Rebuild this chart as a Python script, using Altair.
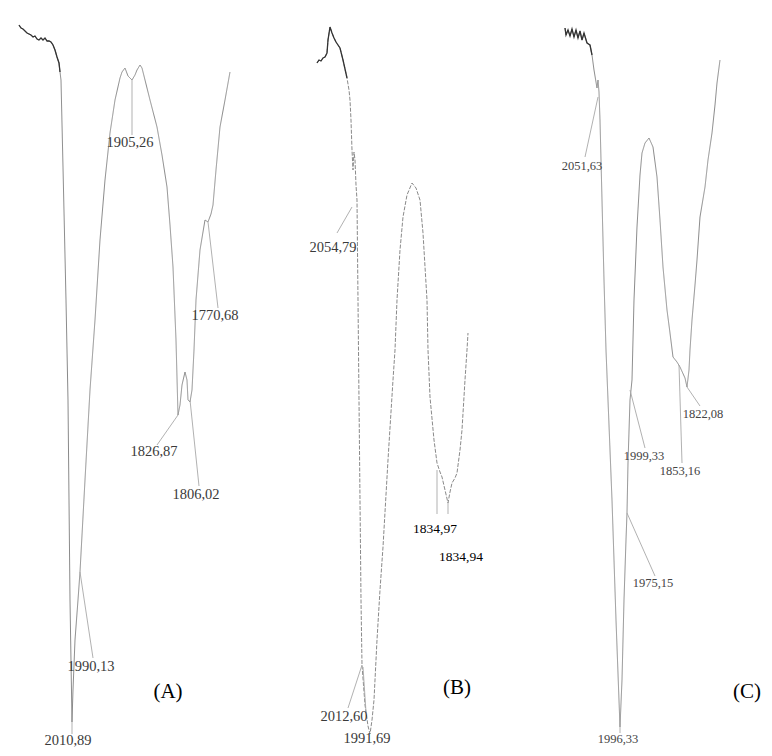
import altair as alt
import pandas as pd

# ---- traced spectra (picture coordinates: x right, y down) ----
A_x = [19, 21, 23, 25, 27, 29, 31, 33, 35, 37, 39, 41, 43, 45, 47, 49, 51, 53, 55, 57, 59, 60, 61,
       63, 66, 68, 69, 70, 72, 73, 75, 78, 80, 85, 90, 95, 100, 105, 110, 115, 120, 122, 125, 128,
       132, 135, 137, 140, 142, 145, 150, 157, 162, 167, 170, 173, 176, 178, 180, 182, 185, 187,
       188, 190, 192, 194, 196, 200, 203, 205, 208, 211, 213, 216, 220, 225, 230]
A_y = [25, 28, 29, 31, 33, 34, 35, 37, 36, 39, 40, 38, 40, 38, 41, 41, 42, 45, 50, 57, 63, 72, 80,
       167, 300, 400, 500, 600, 722, 690, 640, 600, 572, 480, 390, 320, 240, 180, 133, 100, 78, 72,
       68, 76, 80, 75, 70, 65, 68, 80, 100, 127, 155, 187, 225, 267, 340, 415, 405, 385, 372, 380,
       400, 402, 390, 350, 300, 250, 232, 220, 222, 214, 205, 170, 127, 100, 72]

B_x = [317, 319, 321, 323, 325, 327, 328, 330, 332, 334, 336, 338, 340, 343, 347, 349, 350, 351,
       352, 353, 354, 355, 356, 357, 358, 359, 360, 361, 362, 365, 368, 370, 372, 374, 377, 380,
       383, 388, 393, 395, 397, 400, 403, 407, 412, 416, 420, 423, 427, 428, 430, 434, 437, 440,
       442, 445, 448, 450, 452, 455, 457, 460, 462, 465, 467, 468]
B_y = [63, 60, 61, 58, 57, 53, 40, 27, 33, 38, 42, 45, 48, 60, 78, 90, 100, 120, 150, 170, 152,
       160, 185, 200, 300, 400, 500, 600, 665, 705, 726, 734, 720, 700, 640, 590, 547, 460, 380,
       350, 300, 250, 217, 195, 183, 188, 200, 233, 300, 350, 397, 440, 463, 472, 477, 490, 503,
       492, 483, 478, 473, 450, 430, 380, 350, 333]

C_x = [565, 566, 568, 570, 572, 574, 576, 578, 580, 582, 584, 587, 590, 592, 594, 596, 597, 598,
       599, 600, 602, 604, 606, 608, 612, 616, 620, 622, 624, 626, 627, 628, 630, 632, 634, 637,
       640, 642, 645, 649, 653, 657, 660, 663, 667, 670, 673, 677, 680, 685, 687, 689, 690, 692,
       695, 697, 700, 702, 705, 708, 712, 715, 717, 720]
C_y = [28, 35, 30, 36, 29, 37, 30, 38, 31, 40, 33, 43, 45, 55, 70, 82, 88, 80, 92, 120, 200, 280,
       350, 400, 500, 620, 727, 680, 600, 540, 513, 463, 400, 380, 300, 227, 175, 153, 143, 138,
       147, 177, 220, 267, 310, 333, 357, 362, 367, 378, 387, 370, 350, 320, 285, 260, 217, 205,
       187, 160, 133, 105, 83, 60]

# number of leading points drawn darker (noisy top part of each trace)
dark_upto = {"A": 21, "B": 14, "C": 13}

# ---- peak labels ----
label_text = ["1905,26", "1770,68", "1826,87", "1806,02", "1990,13", "2010,89",
              "2054,79", "2012,60", "1991,69", "1834,97", "1834,94",
              "2051,63", "1999,33", "1853,16", "1822,08", "1975,15", "1996,33"]
label_x = [130, 215, 154, 196, 91, 68,
           333, 344, 367, 435, 461,
           582, 644, 680, 703, 653, 618]
label_y = [143, 316, 452, 495, 667, 741,
           248, 717, 739, 529, 557,
           166, 456, 471, 414, 583, 739]
label_size = [14.5, 14.5, 14.5, 14.5, 14.5, 14.5,
              14.5, 14.5, 14.5, 13.5, 13.5,
              12.5, 12.5, 12.5, 12.5, 12.5, 12.5]
label_color = ["#3a3a3a"] * 9 + ["#000000", "#000000"] + ["#444444"] * 6

# leader lines from peak to label
lead_x = [132, 208, 178, 190, 80, 72, 352, 362, 363, 437, 448, 598, 630, 679, 687, 627, 620]
lead_y = [80, 222, 415, 400, 572, 722, 207, 665, 667, 470, 503, 97, 390, 365, 387, 513, 727]
lead_x2 = [132, 218, 157, 199, 93, 72, 337, 348, 366, 437, 448, 585, 645, 682, 700, 655, 620]
lead_y2 = [135, 308, 445, 486, 658, 734, 233, 708, 712, 514, 514, 157, 448, 463, 406, 576, 733]

panel_names = ["(A)", "(B)", "(C)"]
panel_x = [168, 457, 747]
panel_y = [692, 688, 692]

rows = []
for name, xs, ys in (("A", A_x, A_y), ("B", B_x, B_y), ("C", C_x, C_y)):
    for i, (a, b) in enumerate(zip(xs, ys)):
        rows.append({"panel": name, "i": i, "x": a, "y": b, "dark": i <= dark_upto[name]})
spec = pd.DataFrame(rows)
labels = pd.DataFrame({"t": label_text, "x": label_x, "y": label_y, "fs": label_size,
                       "c": label_color})
leads = pd.DataFrame({"x": lead_x, "y": lead_y, "x2": lead_x2, "y2": lead_y2})
panels = pd.DataFrame({"t": panel_names, "x": panel_x, "y": panel_y})

xs = alt.Scale(domain=[8, 764])
ys = alt.Scale(domain=[8, 748], reverse=True)
X = lambda f: alt.X(f, scale=xs, axis=None)
Y = lambda f: alt.Y(f, scale=ys, axis=None)

base_lines = alt.Chart(spec).mark_line(strokeWidth=1, color="#8a8a8a").encode(
    x=X("x:Q"), y=Y("y:Q"), detail="panel:N", order="i:Q",
    strokeDash=alt.StrokeDash("panel:N", scale=alt.Scale(domain=["A", "B", "C"],
                                                           range=[[1, 0], [4, 1.5], [1, 0]]),
                              legend=None),
)

dark_lines = alt.Chart(spec).transform_filter("datum.dark").mark_line(
    strokeWidth=1.3, color="#333333").encode(
    x=X("x:Q"), y=Y("y:Q"), detail="panel:N", order="i:Q"
)

rules = alt.Chart(leads).mark_rule(strokeWidth=0.9, color="#a8a8a8").encode(
    x=X("x:Q"), y=Y("y:Q"), x2="x2:Q", y2="y2:Q"
)

text = alt.Chart(labels).mark_text(font="Liberation Serif",
                                   baseline="middle", align="center").encode(
    x=X("x:Q"), y=Y("y:Q"), text="t:N", size=alt.Size("fs:Q", scale=None),
    color=alt.Color("c:N", scale=None)
)

ptext = alt.Chart(panels).mark_text(font="Liberation Serif", color="#000000", fontSize=21,
                                    baseline="middle", align="center").encode(
    x=X("x:Q"), y=Y("y:Q"), text="t:N"
)

chart = alt.layer(base_lines, dark_lines, rules, text, ptext).properties(
    width=756, height=740, padding=0,
    autosize=alt.AutoSizeParams(type="none"),
).configure_view(strokeWidth=0)

chart.save("out.html", embed_options={"renderer": "svg", "actions": False})
